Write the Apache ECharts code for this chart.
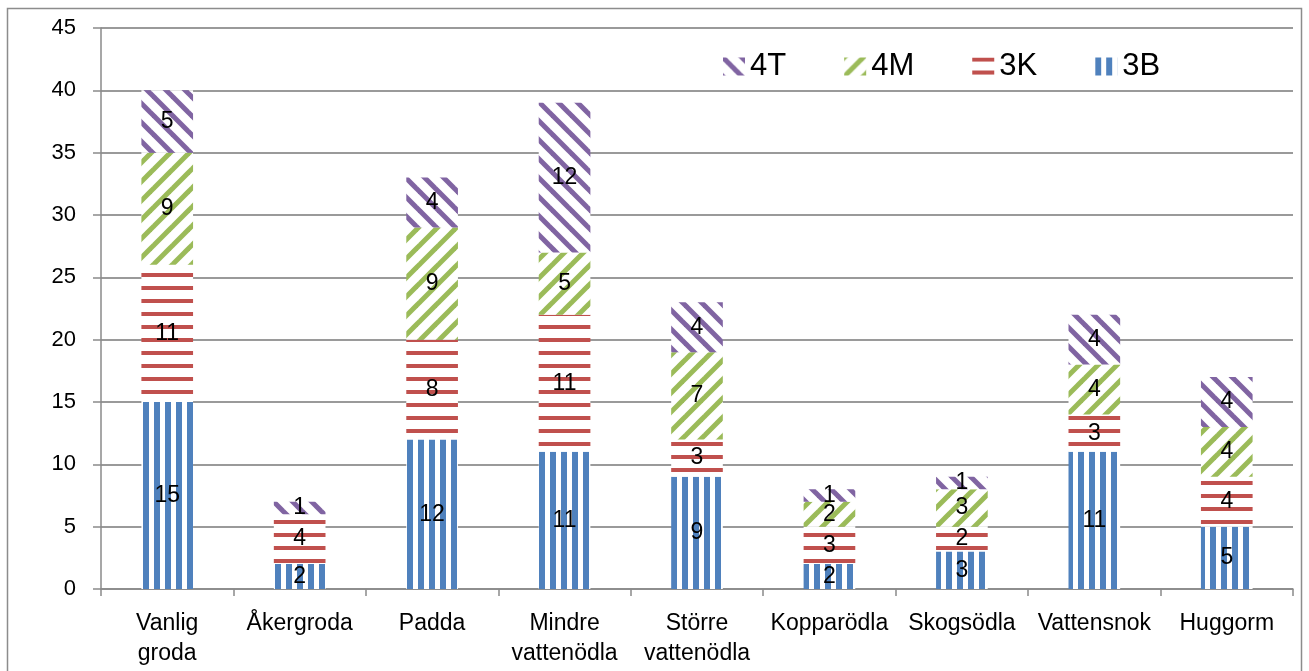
<!DOCTYPE html>
<html>
<head>
<meta charset="utf-8">
<title>Arter per klass</title>
<script src="https://cdn.jsdelivr.net/npm/echarts@6/dist/echarts.min.js"></script>
<style>
  html, body { margin: 0; padding: 0; background: #fff; }
  #main { width: 1309px; height: 671px; }
</style>
</head>
<body>
<div id="main"></div>
<script>
// kategorier och värden per klass
var categories = ['Vanlig\ngroda', 'Åkergroda', 'Padda', 'Mindre\nvattenödla', 'Större\nvattenödla', 'Kopparödla', 'Skogsödla', 'Vattensnok', 'Huggorm'];
var data3B = [15, 2, 12, 11, 9, 2, 3, 11, 5];
var data3K = [11, 4, 8, 11, 3, 3, 2, 3, 4];
var data4M = [9, 0, 9, 5, 7, 2, 3, 4, 4];
var data4T = [5, 1, 4, 12, 4, 1, 1, 4, 4];
var yTicks = [0, 5, 10, 15, 20, 25, 30, 35, 40, 45];

var FONT = '"Liberation Sans", Arial, sans-serif';

// mönster som canvas (streckade staplar som i Excel)
function makePattern(kind, color) {
    var c = document.createElement('canvas');
    var ctx = c.getContext('2d');
    if (kind == 'vert') {
        c.width = 11; c.height = 10;
        ctx.fillStyle = '#fff'; ctx.fillRect(0, 0, 11, 10);
        ctx.fillStyle = color; ctx.fillRect(0, 0, 6, 10);
    } else if (kind == 'horz') {
        c.width = 10; c.height = 13;
        ctx.fillStyle = '#fff'; ctx.fillRect(0, 0, 10, 13);
        ctx.fillStyle = color; ctx.fillRect(0, 0, 10, 4);
    } else {
        var s = 19;
        c.width = s; c.height = s;
        ctx.fillStyle = '#fff'; ctx.fillRect(0, 0, s, s);
        ctx.strokeStyle = color; ctx.lineWidth = 5;
        for (var k = -s; k <= s; k += s) {
            ctx.beginPath();
            if (kind == 'back') { // "\"
                ctx.moveTo(k - 2, -2); ctx.lineTo(k + s + 2, s + 2);
            } else { // "/"
                ctx.moveTo(k - 2, s + 2); ctx.lineTo(k + s + 2, -2);
            }
            ctx.stroke();
        }
    }
    return { image: c, repeat: 'repeat' };
}

var labelOpt = {
    show: true,
    position: 'inside',
    color: '#000',
    fontSize: 23,
    fontFamily: FONT,
    formatter: function (p) { return p.value ? String(p.value) : ''; }
};

function bar(name, data, fill) {
    return {
        name: name,
        type: 'bar',
        stack: 'tot',
        barWidth: '39%',
        data: data,
        itemStyle: { color: fill },
        label: labelOpt,
        emphasis: { disabled: true }
    };
}

var myChart = echarts.init(document.getElementById('main'));
var option = {
    backgroundColor: '#fff',
    animation: false,
    graphic: [{
        type: 'rect',
        shape: { x: 7.5, y: 8.5, width: 1294, height: 700 },
        style: { fill: 'none', stroke: '#8c8c8c', lineWidth: 1.5 },
        silent: true
    }],
    legend: {
        data: ['4T', '4M', '3K', '3B'],
        left: 718,
        top: 46,
        itemWidth: 22,
        itemHeight: 18,
        itemGap: 58,
        icon: 'rect',
        textStyle: { fontSize: 31, fontFamily: FONT, color: '#000' }
    },
    grid: { left: 101, right: 16, top: 28, bottom: 82 },
    xAxis: {
        type: 'category',
        data: categories,
        axisLine: { lineStyle: { color: '#8a8a8a', width: 1.5 } },
        axisTick: { show: true, length: 7, lineStyle: { color: '#8a8a8a', width: 1.5 } },
        axisLabel: { color: '#000', fontSize: 23, fontFamily: FONT, lineHeight: 30, margin: 20, interval: 0 }
    },
    yAxis: {
        type: 'value',
        min: yTicks[0],
        max: yTicks[yTicks.length - 1],
        interval: 5,
        axisLine: { show: true, lineStyle: { color: '#8a8a8a', width: 1.5 } },
        axisTick: { show: true, length: 8, lineStyle: { color: '#8a8a8a', width: 1.5 } },
        axisLabel: { color: '#000', fontSize: 22, fontFamily: FONT, margin: 25 },
        splitLine: { lineStyle: { color: '#9a9a9a', width: 2 } }
    },
    series: [
        bar('3B', data3B, makePattern('vert', '#4F81BD')),
        bar('3K', data3K, makePattern('horz', '#C0504D')),
        bar('4M', data4M, makePattern('fwd', '#9BBB59')),
        bar('4T', data4T, makePattern('back', '#8064A2'))
    ]
};
myChart.setOption(option);
window.onresize = myChart.resize;
</script>
</body>
</html>
